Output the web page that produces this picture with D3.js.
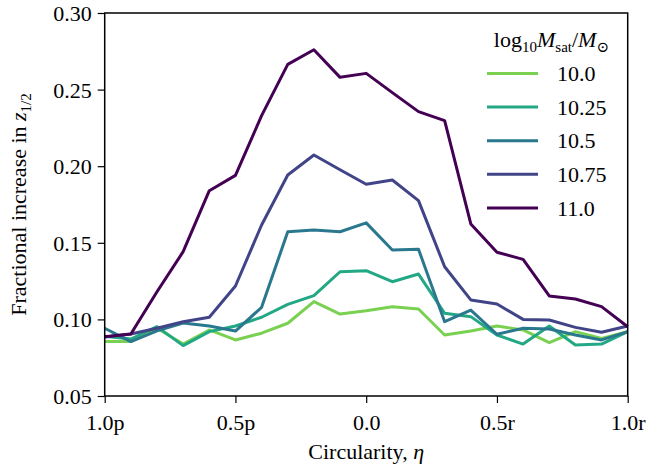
<!DOCTYPE html>
<html>
<head>
<meta charset="utf-8">
<script src="https://cdn.jsdelivr.net/npm/d3@7"></script>
<style>
  body { margin: 0; background: #fff; }
  svg { display: block; }
  svg text { font-family: "Times New Roman", "Liberation Serif", "DejaVu Serif", "Noto Serif", Times, serif !important; fill: #000; }
</style>
</head>
<body>
<svg id="chart" width="650" height="468"></svg>
<script>
// ---- data ----
const eta = [-1.0,-0.9,-0.8,-0.7,-0.6,-0.5,-0.4,-0.3,-0.2,-0.1,0.0,0.1,0.2,0.3,0.4,0.5,0.6,0.7,0.8,0.9,1.0];
const massLabels = ["10.0","10.25","10.5","10.75","11.0"];
const seriesColors = ["#7ad151","#22a884","#2a788e","#414487","#440154"];
const m100  = [0.0855,0.0855,0.0942,0.0839,0.0931,0.0866,0.0910,0.0975,0.1116,0.1035,0.1057,0.1083,0.1068,0.0898,0.0924,0.0957,0.0931,0.0848,0.0920,0.0876,0.0920];
const m1025 = [0.0890,0.0872,0.0953,0.0829,0.0920,0.0957,0.1014,0.1098,0.1155,0.1311,0.1318,0.1246,0.1296,0.1040,0.1018,0.0898,0.0839,0.0957,0.0833,0.0839,0.0920];
const m105  = [0.0942,0.0855,0.0925,0.0976,0.0957,0.0924,0.1079,0.1572,0.1584,0.1572,0.1630,0.1453,0.1458,0.0985,0.1061,0.0903,0.0942,0.0937,0.0898,0.0866,0.0920];
const m1075 = [0.0885,0.0905,0.0942,0.0985,0.1014,0.1218,0.1616,0.1943,0.2073,0.1977,0.1882,0.1910,0.1775,0.1344,0.1127,0.1100,0.1000,0.0996,0.0948,0.0916,0.0957];
const m110  = [0.0887,0.0905,0.1180,0.1442,0.1840,0.1940,0.2330,0.2665,0.2760,0.2580,0.2606,0.2480,0.2356,0.2297,0.1623,0.1438,0.1392,0.1153,0.1133,0.1083,0.0952];
const seriesValues = [m100, m1025, m105, m1075, m110];
const xTicks = [-1.0,-0.5,0.0,0.5,1.0];
const xTickLabels = ["1.0p","0.5p","0.0","0.5r","1.0r"];
const yTicks = [0.05,0.10,0.15,0.20,0.25,0.30];

// ---- layout ----
const svg = d3.select("#chart");
const L = 104.7, R = 627.7, T = 13, B = 396;
const x = d3.scaleLinear().domain([-1, 1]).range([L, R]);
const y = d3.scaleLinear().domain([0.05, 0.30]).range([B, T]);
const fs = 22;
const serif = '"Times New Roman", "Liberation Serif", "DejaVu Serif", serif';

// lines
const line = d3.line().x((d, i) => x(eta[i])).y(d => y(d));
const gLines = svg.append("g");
seriesValues.forEach((vals, k) => {
  gLines.append("path")
    .datum(vals)
    .attr("d", line)
    .attr("fill", "none")
    .attr("stroke", seriesColors[k])
    .attr("stroke-width", 3)
    .attr("stroke-linejoin", "round");
});

// axes
const xAxis = d3.axisBottom(x).tickValues(xTicks)
  .tickFormat((d, i) => xTickLabels[i]).tickSizeOuter(0).tickSize(7).tickPadding(6);
const yAxis = d3.axisLeft(y).tickValues(yTicks)
  .tickFormat(d3.format(".2f")).tickSizeOuter(0).tickSize(7).tickPadding(6);

const gx = svg.append("g").attr("transform", `translate(0,${B})`).call(xAxis);
const gy = svg.append("g").attr("transform", `translate(${L},0)`).call(yAxis);
[gx, gy].forEach(g => {
  g.attr("font-family", serif).attr("font-size", fs);
  g.select(".domain").remove();
  g.selectAll(".tick line").attr("stroke", "#000").attr("stroke-width", 1.2);
  g.selectAll(".tick text").attr("font-size", fs).style("font-family", serif).attr("fill", "#000");
});
gx.selectAll(".tick text").attr("dy", "0.95em");
gy.selectAll(".tick text").attr("dy", "0.34em");

// frame
svg.append("rect").attr("x", L).attr("y", T).attr("width", R - L).attr("height", B - T)
  .attr("fill", "none").attr("stroke", "#000").attr("stroke-width", 1.5);

// axis labels
const xl = svg.append("text").attr("x", (L + R) / 2).attr("y", 459)
  .attr("text-anchor", "middle").attr("font-size", fs).style("font-family", serif);
xl.append("tspan").text("Circularity, ");
xl.append("tspan").attr("font-style", "italic").text("η");

const yl = svg.append("text")
  .attr("transform", `translate(26,${(T + B) / 2}) rotate(-90)`)
  .attr("text-anchor", "middle").attr("font-size", fs).style("font-family", serif);
yl.append("tspan").text("Fractional increase in ");
yl.append("tspan").attr("font-style", "italic").text("z");
yl.append("tspan").attr("font-size", 15).attr("dy", 5).text("1/2");

// legend
const lt = svg.append("text").attr("x", 609).attr("y", 47).attr("text-anchor", "end")
  .attr("font-size", fs).style("font-family", serif);
lt.append("tspan").text("log");
lt.append("tspan").attr("font-size", 15).attr("dy", 5).text("10");
lt.append("tspan").attr("font-style", "italic").attr("dy", -5).text("M");
lt.append("tspan").attr("font-size", 15).attr("dy", 5).text("sat");
lt.append("tspan").attr("dy", -5).text("/");
lt.append("tspan").attr("font-style", "italic").text("M");
lt.append("tspan").attr("font-size", 15).attr("dy", 5).text("⊙");

massLabels.forEach((lab, k) => {
  const yy = 73.5 + k * 33.6;
  svg.append("line").attr("x1", 487).attr("x2", 538).attr("y1", yy).attr("y2", yy)
    .attr("stroke", seriesColors[k]).attr("stroke-width", 3);
  svg.append("text").attr("x", 557).attr("y", yy).attr("dy", "0.35em")
    .attr("font-size", fs).style("font-family", serif).text(lab);
});
</script>
</body>
</html>
